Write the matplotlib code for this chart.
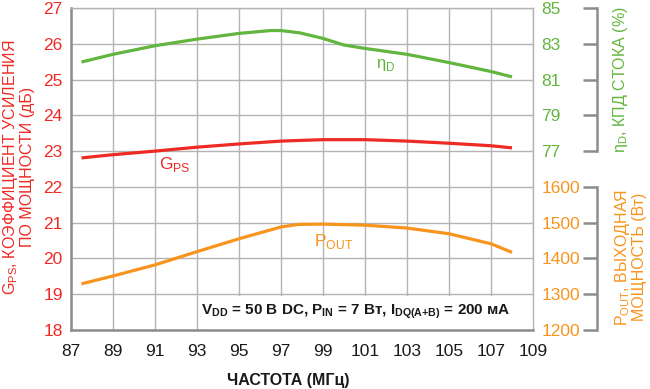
import matplotlib
matplotlib.use('Agg')
import matplotlib.pyplot as plt
from matplotlib.patches import Rectangle

plt.rcParams['font.family'] = ['Liberation Sans', 'DejaVu Sans']
plt.rcParams['mathtext.fontset'] = 'custom'
plt.rcParams['mathtext.rm'] = 'Liberation Sans'

RED = '#ee2a24'
GREEN = '#62b53f'
ORANGE = '#f7941d'
GRAY = '#8c8c8c'
GRID = '#b4b4b4'
INK = '#1a1a1a'

# drain efficiency, %
freq_e = [87.5, 89, 91, 93, 95, 96.5, 97, 97.9, 99, 100, 101, 103, 105, 107, 108]
eff = [81.98, 82.41, 82.89, 83.26, 83.58, 83.74, 83.74, 83.61, 83.30, 82.93, 82.74,
       82.41, 81.95, 81.45, 81.15]

# power gain, dB
freq_g = [87.5, 89, 91, 93, 95, 97, 99, 101, 103, 105, 107, 108]
gain = [22.81, 22.90, 23.00, 23.11, 23.20, 23.28, 23.32, 23.32, 23.28, 23.22, 23.15, 23.09]

# output power, W
freq_p = [87.5, 89, 91, 93, 95, 97, 97.8, 99, 101, 103, 105, 107, 108]
pout = [1329, 1351, 1382, 1419, 1455, 1488, 1495, 1496, 1493, 1485, 1469, 1441, 1417]

xticks = list(range(87, 110, 2))
gain_ticks = list(range(18, 28))
eff_ticks = [77, 79, 81, 83, 85]
pout_ticks = [1200, 1300, 1400, 1500, 1600]

fig = plt.figure(figsize=(6.5, 3.89), dpi=100)
ax = fig.add_axes([71 / 650, 1 - 330 / 389, 462 / 650, 322 / 389])

ax.set_xlim(87, 109)
ax.set_ylim(18, 27)
ax.set_xticks(xticks)
ax.set_yticks(gain_ticks)
ax.grid(True, color=GRID, linewidth=1.0)
ax.set_axisbelow(True)
for side in ['top', 'right']:
    ax.spines[side].set_color(GRID)
    ax.spines[side].set_linewidth(1.0)
for side in ['left', 'bottom']:
    ax.spines[side].set_color(GRAY)
    ax.spines[side].set_linewidth(1.8)
ax.tick_params(axis='x', direction='in', length=3, color=GRID, pad=10,
               labelsize=12.5, labelcolor=INK)
ax.tick_params(axis='y', length=0, pad=6, labelsize=12.5, labelcolor=RED)

ax.plot(freq_g, gain, color=RED, linewidth=2.3, solid_capstyle='butt', zorder=3)

# white box behind the test conditions
ax.add_patch(Rectangle((134 / 462, 0), 328 / 462, 34 / 322, transform=ax.transAxes,
                       facecolor='white', edgecolor='none', zorder=1))
ax.text(100.55, 18.52,
        'V$_{\\mathregular{DD}}$ = 50 В DC, P$_{\\mathregular{IN}}$ = 7 Вт, '
        'I$_{\\mathregular{DQ(A{+}B)}}$ = 200 мА',
        color=INK, fontsize=11, fontweight='bold', ha='center', va='center', zorder=2)

# efficiency axis
ax_e = ax.twinx()
ax_e.set_ylim(67, 85)
ax_e.set_yticks(eff_ticks)
ax_e.plot(freq_e, eff, color=GREEN, linewidth=2.3, solid_capstyle='butt', zorder=3)

# output power axis
ax_p = ax.twinx()
ax_p.set_ylim(1200, 2100)
ax_p.set_yticks(pout_ticks)
ax_p.plot(freq_p, pout, color=ORANGE, linewidth=2.3, solid_capstyle='butt', zorder=3)

for a, lo, hi, col in [(ax_e, 77, 85, GREEN), (ax_p, 1200, 1600, ORANGE)]:
    for side in ['top', 'bottom', 'left']:
        a.spines[side].set_visible(False)
    a.spines['right'].set_position(('axes', 526 / 462))
    a.spines['right'].set_bounds(lo, hi)
    a.spines['right'].set_color(GRAY)
    a.spines['right'].set_linewidth(1.8)
    a.tick_params(axis='y', direction='in', length=10, width=1.8, color=GRAY,
                  pad=-40, labelsize=12.5, labelcolor=col)
    for t in a.get_yticklabels():
        t.set_horizontalalignment('left')

# curve labels
ax.text(102.0, 25.4, 'η$_{\\mathregular{D}}$', color=GREEN, fontsize=12, ha='center', va='center')
ax.text(91.95, 22.62, 'G$_{\\mathregular{PS}}$', color=RED, fontsize=12.5, ha='center', va='center')
ax.text(99.5, 20.48, 'P$_{\\mathregular{OUT}}$', color=ORANGE, fontsize=12.5, ha='center', va='center')

# axis titles
fig.text(288 / 650, 1 - 380 / 389, 'ЧАСТОТА (МГц)', fontsize=11.5, fontweight='bold',
         color=INK, ha='center', va='center')
fig.text(18 / 650, 1 - 167 / 389,
         'G$_{\\mathregular{PS}}$, КОЭФФИЦИЕНТ УСИЛЕНИЯ\nПО МОЩНОСТИ (дБ)',
         fontsize=11.5, color=RED, rotation=90, ha='center', va='center',
         multialignment='center', linespacing=1.0)
fig.text(620 / 650, 1 - 80 / 389, 'η$_{\\mathregular{D}}$, КПД СТОКА (%)',
         fontsize=11.5, color=GREEN, rotation=90, ha='center', va='center')
fig.text(630 / 650, 1 - 257 / 389,
         'P$_{\\mathregular{OUT}}$, ВЫХОДНАЯ\nМОЩНОСТЬ (Вт)',
         fontsize=11.5, color=ORANGE, rotation=90, ha='center', va='center',
         multialignment='center', linespacing=1.0)

fig.savefig('out.png', dpi=100)
